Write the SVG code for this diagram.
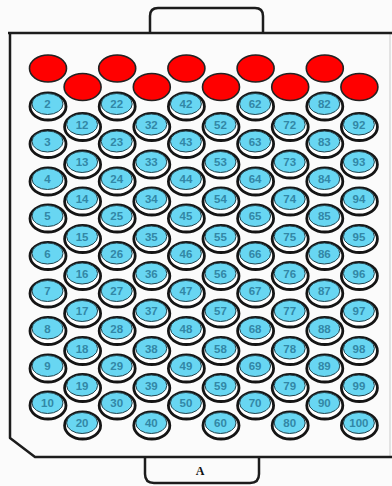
<svg xmlns="http://www.w3.org/2000/svg" width="392" height="486" viewBox="0 0 392 486">
<style>
.plate{fill:none;stroke:#1c1c1c;stroke-width:2.5;stroke-linejoin:round}
.edge{fill:none;stroke:#d4d4d4;stroke-width:1.2}
.red{fill:#ff0000;stroke:#222;stroke-width:1.6}
.ring{fill:#fff;stroke:#151515;stroke-width:2.8}
.blue{fill:#68d6f2;stroke:#24434c;stroke-width:1}
.n{font-family:"Liberation Sans",Arial,sans-serif;font-size:11.5px;font-weight:bold;fill:#3287a6;text-anchor:middle}
.lbl{font-family:"Liberation Serif","Times New Roman",serif;font-size:12px;font-weight:bold;fill:#111;text-anchor:middle}
</style>
<defs>
<g id="w"><ellipse class="ring" rx="18" ry="13.5"/><ellipse class="blue" cx="-0.5" cy="-2.5" rx="15.5" ry="10.5"/></g>
<ellipse id="r" class="red" rx="18.5" ry="13.5"/>
</defs>
<rect width="392" height="486" fill="#fbfbfb"/>
<g id="plate">
<path class="edge" d="M390 34 V456"/>
<path class="plate" d="M8 33 H392 M10 33 V438 L35 457 H392"/>
<path class="plate" d="M150 33 V16 Q150 8 158 8 H255 Q263 8 263 16 V33"/>
<path class="plate" d="M145 457 V474 Q145 483 154 483 H250 Q259 483 259 474 V457"/>
<text class="lbl" x="200" y="475">A</text>
</g>
<g id="connectors"/>
<g id="wells">
<g id="well-1" transform="translate(48 68.5)"><use href="#r"/></g>
<g id="well-2" transform="translate(48 106.5)"><use href="#w"/><text class="n" x="-0.5" y="1.5">2</text></g>
<g id="well-3" transform="translate(48 144)"><use href="#w"/><text class="n" x="-0.5" y="1.5">3</text></g>
<g id="well-4" transform="translate(48 181.5)"><use href="#w"/><text class="n" x="-0.5" y="1.5">4</text></g>
<g id="well-5" transform="translate(48 218.5)"><use href="#w"/><text class="n" x="-0.5" y="1.5">5</text></g>
<g id="well-6" transform="translate(48 256)"><use href="#w"/><text class="n" x="-0.5" y="1.5">6</text></g>
<g id="well-7" transform="translate(48 293.5)"><use href="#w"/><text class="n" x="-0.5" y="1.5">7</text></g>
<g id="well-8" transform="translate(48 331)"><use href="#w"/><text class="n" x="-0.5" y="1.5">8</text></g>
<g id="well-9" transform="translate(48 368.5)"><use href="#w"/><text class="n" x="-0.5" y="1.5">9</text></g>
<g id="well-10" transform="translate(48 405.5)"><use href="#w"/><text class="n" x="-0.5" y="1.5">10</text></g>

<g id="well-11" transform="translate(82.6 87)"><use href="#r"/></g>
<g id="well-12" transform="translate(82.6 127)"><use href="#w"/><text class="n" x="-0.5" y="1.5">12</text></g>
<g id="well-13" transform="translate(82.6 164.5)"><use href="#w"/><text class="n" x="-0.5" y="1.5">13</text></g>
<g id="well-14" transform="translate(82.6 201.5)"><use href="#w"/><text class="n" x="-0.5" y="1.5">14</text></g>
<g id="well-15" transform="translate(82.6 239)"><use href="#w"/><text class="n" x="-0.5" y="1.5">15</text></g>
<g id="well-16" transform="translate(82.6 276)"><use href="#w"/><text class="n" x="-0.5" y="1.5">16</text></g>
<g id="well-17" transform="translate(82.6 313.5)"><use href="#w"/><text class="n" x="-0.5" y="1.5">17</text></g>
<g id="well-18" transform="translate(82.6 351)"><use href="#w"/><text class="n" x="-0.5" y="1.5">18</text></g>
<g id="well-19" transform="translate(82.6 388)"><use href="#w"/><text class="n" x="-0.5" y="1.5">19</text></g>
<g id="well-20" transform="translate(82.6 425.5)"><use href="#w"/><text class="n" x="-0.5" y="1.5">20</text></g>

<g id="well-21" transform="translate(117.2 68.5)"><use href="#r"/></g>
<g id="well-22" transform="translate(117.2 106.5)"><use href="#w"/><text class="n" x="-0.5" y="1.5">22</text></g>
<g id="well-23" transform="translate(117.2 144)"><use href="#w"/><text class="n" x="-0.5" y="1.5">23</text></g>
<g id="well-24" transform="translate(117.2 181.5)"><use href="#w"/><text class="n" x="-0.5" y="1.5">24</text></g>
<g id="well-25" transform="translate(117.2 218.5)"><use href="#w"/><text class="n" x="-0.5" y="1.5">25</text></g>
<g id="well-26" transform="translate(117.2 256)"><use href="#w"/><text class="n" x="-0.5" y="1.5">26</text></g>
<g id="well-27" transform="translate(117.2 293.5)"><use href="#w"/><text class="n" x="-0.5" y="1.5">27</text></g>
<g id="well-28" transform="translate(117.2 331)"><use href="#w"/><text class="n" x="-0.5" y="1.5">28</text></g>
<g id="well-29" transform="translate(117.2 368.5)"><use href="#w"/><text class="n" x="-0.5" y="1.5">29</text></g>
<g id="well-30" transform="translate(117.2 405.5)"><use href="#w"/><text class="n" x="-0.5" y="1.5">30</text></g>

<g id="well-31" transform="translate(151.8 87)"><use href="#r"/></g>
<g id="well-32" transform="translate(151.8 127)"><use href="#w"/><text class="n" x="-0.5" y="1.5">32</text></g>
<g id="well-33" transform="translate(151.8 164.5)"><use href="#w"/><text class="n" x="-0.5" y="1.5">33</text></g>
<g id="well-34" transform="translate(151.8 201.5)"><use href="#w"/><text class="n" x="-0.5" y="1.5">34</text></g>
<g id="well-35" transform="translate(151.8 239)"><use href="#w"/><text class="n" x="-0.5" y="1.5">35</text></g>
<g id="well-36" transform="translate(151.8 276)"><use href="#w"/><text class="n" x="-0.5" y="1.5">36</text></g>
<g id="well-37" transform="translate(151.8 313.5)"><use href="#w"/><text class="n" x="-0.5" y="1.5">37</text></g>
<g id="well-38" transform="translate(151.8 351)"><use href="#w"/><text class="n" x="-0.5" y="1.5">38</text></g>
<g id="well-39" transform="translate(151.8 388)"><use href="#w"/><text class="n" x="-0.5" y="1.5">39</text></g>
<g id="well-40" transform="translate(151.8 425.5)"><use href="#w"/><text class="n" x="-0.5" y="1.5">40</text></g>

<g id="well-41" transform="translate(186.4 68.5)"><use href="#r"/></g>
<g id="well-42" transform="translate(186.4 106.5)"><use href="#w"/><text class="n" x="-0.5" y="1.5">42</text></g>
<g id="well-43" transform="translate(186.4 144)"><use href="#w"/><text class="n" x="-0.5" y="1.5">43</text></g>
<g id="well-44" transform="translate(186.4 181.5)"><use href="#w"/><text class="n" x="-0.5" y="1.5">44</text></g>
<g id="well-45" transform="translate(186.4 218.5)"><use href="#w"/><text class="n" x="-0.5" y="1.5">45</text></g>
<g id="well-46" transform="translate(186.4 256)"><use href="#w"/><text class="n" x="-0.5" y="1.5">46</text></g>
<g id="well-47" transform="translate(186.4 293.5)"><use href="#w"/><text class="n" x="-0.5" y="1.5">47</text></g>
<g id="well-48" transform="translate(186.4 331)"><use href="#w"/><text class="n" x="-0.5" y="1.5">48</text></g>
<g id="well-49" transform="translate(186.4 368.5)"><use href="#w"/><text class="n" x="-0.5" y="1.5">49</text></g>
<g id="well-50" transform="translate(186.4 405.5)"><use href="#w"/><text class="n" x="-0.5" y="1.5">50</text></g>

<g id="well-51" transform="translate(221 87)"><use href="#r"/></g>
<g id="well-52" transform="translate(221 127)"><use href="#w"/><text class="n" x="-0.5" y="1.5">52</text></g>
<g id="well-53" transform="translate(221 164.5)"><use href="#w"/><text class="n" x="-0.5" y="1.5">53</text></g>
<g id="well-54" transform="translate(221 201.5)"><use href="#w"/><text class="n" x="-0.5" y="1.5">54</text></g>
<g id="well-55" transform="translate(221 239)"><use href="#w"/><text class="n" x="-0.5" y="1.5">55</text></g>
<g id="well-56" transform="translate(221 276)"><use href="#w"/><text class="n" x="-0.5" y="1.5">56</text></g>
<g id="well-57" transform="translate(221 313.5)"><use href="#w"/><text class="n" x="-0.5" y="1.5">57</text></g>
<g id="well-58" transform="translate(221 351)"><use href="#w"/><text class="n" x="-0.5" y="1.5">58</text></g>
<g id="well-59" transform="translate(221 388)"><use href="#w"/><text class="n" x="-0.5" y="1.5">59</text></g>
<g id="well-60" transform="translate(221 425.5)"><use href="#w"/><text class="n" x="-0.5" y="1.5">60</text></g>

<g id="well-61" transform="translate(255.6 68.5)"><use href="#r"/></g>
<g id="well-62" transform="translate(255.6 106.5)"><use href="#w"/><text class="n" x="-0.5" y="1.5">62</text></g>
<g id="well-63" transform="translate(255.6 144)"><use href="#w"/><text class="n" x="-0.5" y="1.5">63</text></g>
<g id="well-64" transform="translate(255.6 181.5)"><use href="#w"/><text class="n" x="-0.5" y="1.5">64</text></g>
<g id="well-65" transform="translate(255.6 218.5)"><use href="#w"/><text class="n" x="-0.5" y="1.5">65</text></g>
<g id="well-66" transform="translate(255.6 256)"><use href="#w"/><text class="n" x="-0.5" y="1.5">66</text></g>
<g id="well-67" transform="translate(255.6 293.5)"><use href="#w"/><text class="n" x="-0.5" y="1.5">67</text></g>
<g id="well-68" transform="translate(255.6 331)"><use href="#w"/><text class="n" x="-0.5" y="1.5">68</text></g>
<g id="well-69" transform="translate(255.6 368.5)"><use href="#w"/><text class="n" x="-0.5" y="1.5">69</text></g>
<g id="well-70" transform="translate(255.6 405.5)"><use href="#w"/><text class="n" x="-0.5" y="1.5">70</text></g>

<g id="well-71" transform="translate(290.2 87)"><use href="#r"/></g>
<g id="well-72" transform="translate(290.2 127)"><use href="#w"/><text class="n" x="-0.5" y="1.5">72</text></g>
<g id="well-73" transform="translate(290.2 164.5)"><use href="#w"/><text class="n" x="-0.5" y="1.5">73</text></g>
<g id="well-74" transform="translate(290.2 201.5)"><use href="#w"/><text class="n" x="-0.5" y="1.5">74</text></g>
<g id="well-75" transform="translate(290.2 239)"><use href="#w"/><text class="n" x="-0.5" y="1.5">75</text></g>
<g id="well-76" transform="translate(290.2 276)"><use href="#w"/><text class="n" x="-0.5" y="1.5">76</text></g>
<g id="well-77" transform="translate(290.2 313.5)"><use href="#w"/><text class="n" x="-0.5" y="1.5">77</text></g>
<g id="well-78" transform="translate(290.2 351)"><use href="#w"/><text class="n" x="-0.5" y="1.5">78</text></g>
<g id="well-79" transform="translate(290.2 388)"><use href="#w"/><text class="n" x="-0.5" y="1.5">79</text></g>
<g id="well-80" transform="translate(290.2 425.5)"><use href="#w"/><text class="n" x="-0.5" y="1.5">80</text></g>

<g id="well-81" transform="translate(324.8 68.5)"><use href="#r"/></g>
<g id="well-82" transform="translate(324.8 106.5)"><use href="#w"/><text class="n" x="-0.5" y="1.5">82</text></g>
<g id="well-83" transform="translate(324.8 144)"><use href="#w"/><text class="n" x="-0.5" y="1.5">83</text></g>
<g id="well-84" transform="translate(324.8 181.5)"><use href="#w"/><text class="n" x="-0.5" y="1.5">84</text></g>
<g id="well-85" transform="translate(324.8 218.5)"><use href="#w"/><text class="n" x="-0.5" y="1.5">85</text></g>
<g id="well-86" transform="translate(324.8 256)"><use href="#w"/><text class="n" x="-0.5" y="1.5">86</text></g>
<g id="well-87" transform="translate(324.8 293.5)"><use href="#w"/><text class="n" x="-0.5" y="1.5">87</text></g>
<g id="well-88" transform="translate(324.8 331)"><use href="#w"/><text class="n" x="-0.5" y="1.5">88</text></g>
<g id="well-89" transform="translate(324.8 368.5)"><use href="#w"/><text class="n" x="-0.5" y="1.5">89</text></g>
<g id="well-90" transform="translate(324.8 405.5)"><use href="#w"/><text class="n" x="-0.5" y="1.5">90</text></g>

<g id="well-91" transform="translate(359.4 87)"><use href="#r"/></g>
<g id="well-92" transform="translate(359.4 127)"><use href="#w"/><text class="n" x="-0.5" y="1.5">92</text></g>
<g id="well-93" transform="translate(359.4 164.5)"><use href="#w"/><text class="n" x="-0.5" y="1.5">93</text></g>
<g id="well-94" transform="translate(359.4 201.5)"><use href="#w"/><text class="n" x="-0.5" y="1.5">94</text></g>
<g id="well-95" transform="translate(359.4 239)"><use href="#w"/><text class="n" x="-0.5" y="1.5">95</text></g>
<g id="well-96" transform="translate(359.4 276)"><use href="#w"/><text class="n" x="-0.5" y="1.5">96</text></g>
<g id="well-97" transform="translate(359.4 313.5)"><use href="#w"/><text class="n" x="-0.5" y="1.5">97</text></g>
<g id="well-98" transform="translate(359.4 351)"><use href="#w"/><text class="n" x="-0.5" y="1.5">98</text></g>
<g id="well-99" transform="translate(359.4 388)"><use href="#w"/><text class="n" x="-0.5" y="1.5">99</text></g>
<g id="well-100" transform="translate(359.4 425.5)"><use href="#w"/><text class="n" x="-0.5" y="1.5">100</text></g>
</g>
</svg>
